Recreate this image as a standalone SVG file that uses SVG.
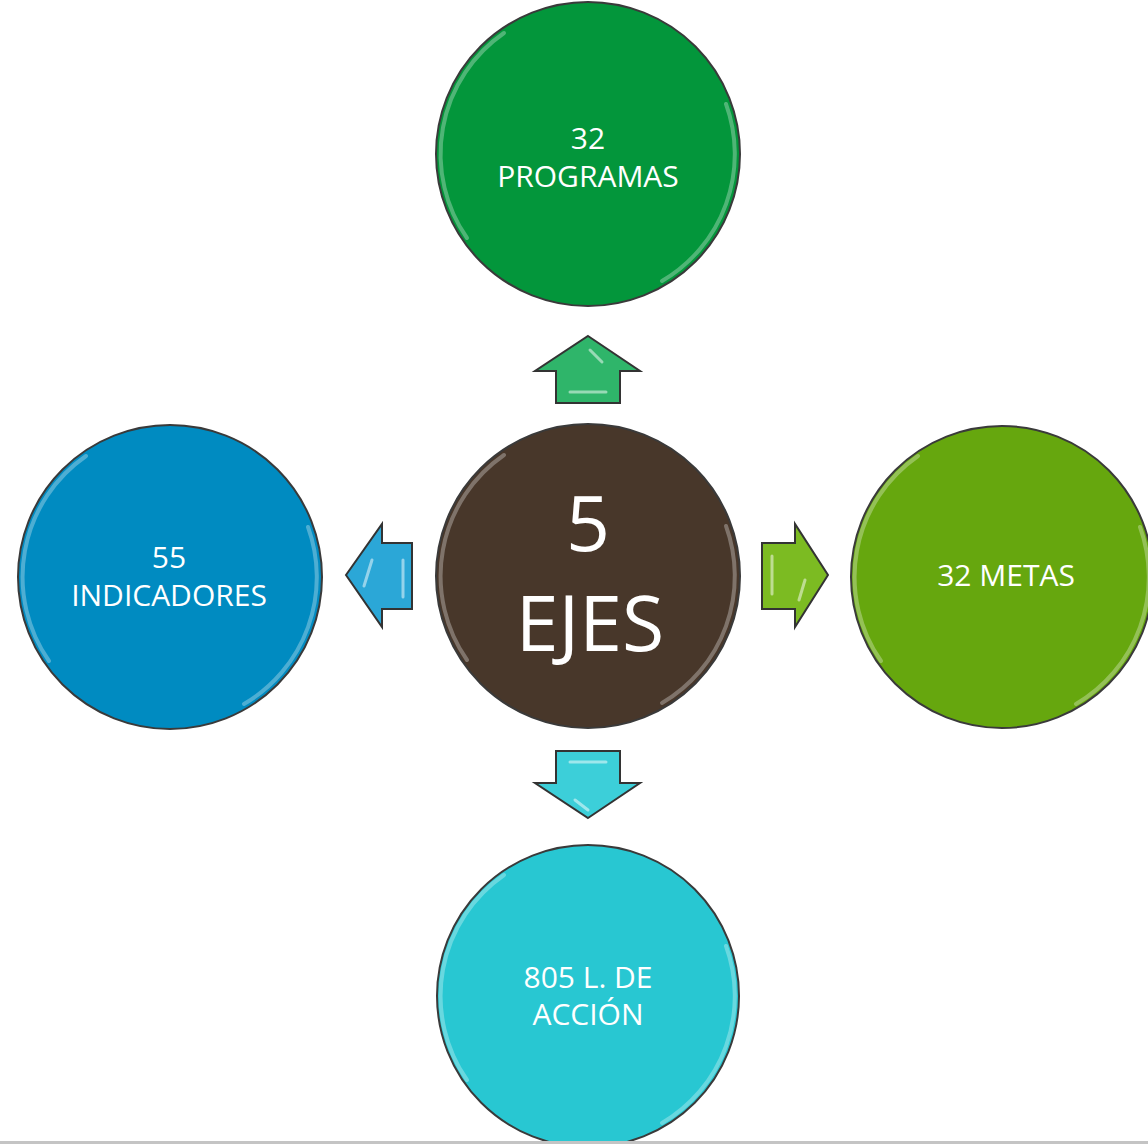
<svg xmlns="http://www.w3.org/2000/svg" xmlns:xlink="http://www.w3.org/1999/xlink" width="1148" height="1144" viewBox="0 0 1148 1144">
<style>
.node{stroke:#3a3a3a;stroke-width:2}
.lbl{font-family:"Open Sans","Liberation Sans",sans-serif;fill:#ffffff;text-anchor:middle;font-size:30px}
.big{font-size:77px}
.arrow{stroke:#333333;stroke-width:2;stroke-linejoin:miter}
.hl{fill:none;stroke:#ffffff;stroke-opacity:0.3;stroke-width:4;stroke-linecap:round}
.ahl{fill:none;stroke:#ffffff;stroke-opacity:0.5;stroke-width:3;stroke-linecap:round}
</style>
<defs>
<g id="gloss">
<path class="hl" d="M -121 84 A 147 147 0 0 1 -84 -121"/>
<path class="hl" d="M 138 -50 A 147 147 0 0 1 74 127"/>
</g>
</defs>
<rect width="1148" height="1144" fill="#ffffff"/>

<g id="connectors">
<g id="arrow-up">
<polygon class="arrow" fill="#2fb56a" points="588,336 640,371 620,371 620,403 556,403 556,371 535,371"/>
<path class="ahl" d="M 590 350 L 602 362"/>
<path class="ahl" d="M 570 392 L 606 392"/>
</g>
<g id="arrow-left">
<polygon class="arrow" fill="#2ba7d7" points="346,575 382,524 382,543 412,543 412,609 382,609 382,627"/>
<path class="ahl" d="M 372 560 L 364 586"/>
<path class="ahl" d="M 403 560 L 403 597"/>
</g>
<g id="arrow-right">
<polygon class="arrow" fill="#7cbb22" points="828,575 795,627 795,609 762,609 762,543 795,543 795,524"/>
<path class="ahl" d="M 772 556 L 772 594"/>
<path class="ahl" d="M 805 580 L 799 600"/>
</g>
<g id="arrow-down">
<polygon class="arrow" fill="#3ccfd9" points="588,818 640,783 620,783 620,751 556,751 556,783 535,783"/>
<path class="ahl" d="M 570 762 L 606 762"/>
<path class="ahl" d="M 575 800 L 588 810"/>
</g>
</g>

<g id="node-programas">
<circle class="node" cx="588" cy="154" r="152" fill="#03963b"/>
<use xlink:href="#gloss" x="588" y="154"/>
<text class="lbl" x="588" y="149">32</text>
<text class="lbl" x="588" y="187">PROGRAMAS</text>
</g>

<g id="node-indicadores">
<circle class="node" cx="170" cy="577" r="152" fill="#008bc1"/>
<use xlink:href="#gloss" x="170" y="577"/>
<text class="lbl" x="169" y="568">55</text>
<text class="lbl" x="169" y="606">INDICADORES</text>
</g>

<g id="node-ejes">
<circle class="node" cx="588" cy="576" r="152" fill="#48372a"/>
<use xlink:href="#gloss" x="588" y="576"/>
<text class="lbl big" x="588" y="551">5</text>
<text class="lbl big" x="590" y="651">EJES</text>
</g>

<g id="node-metas">
<circle class="node" cx="1002" cy="577" r="151" fill="#66a70e"/>
<use xlink:href="#gloss" x="1002" y="577"/>
<text class="lbl" x="1006" y="586">32 METAS</text>
</g>

<g id="node-accion">
<circle class="node" cx="588" cy="996" r="151" fill="#28c7d2"/>
<use xlink:href="#gloss" x="588" y="996"/>
<text class="lbl" x="588" y="988">805 L. DE</text>
<text class="lbl" x="588" y="1025">ACCIÓN</text>
</g>

<rect x="0" y="1141" width="1148" height="3" fill="#c4c4c4"/>
</svg>
